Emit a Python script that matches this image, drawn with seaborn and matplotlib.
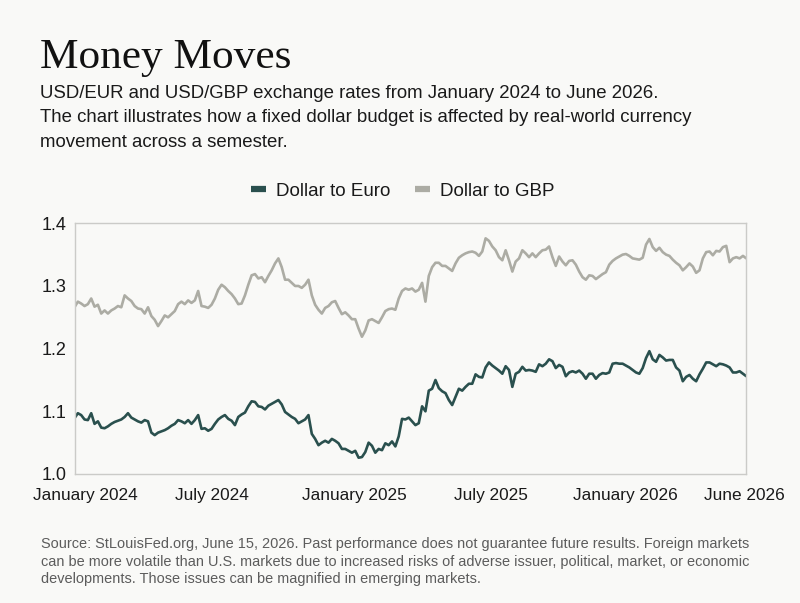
import matplotlib
matplotlib.use("Agg")
import matplotlib.pyplot as plt
import seaborn as sns
import pandas as pd
from matplotlib.lines import Line2D

# ---------------- data ----------------
START_DATE = "2024-01-01"
END_DATE = "2026-06-15"

euro = [
    1.089, 1.097, 1.094, 1.087, 1.086, 1.097, 1.080, 1.084, 1.074, 1.073,
    1.076, 1.080, 1.083, 1.085, 1.087, 1.091, 1.097, 1.090, 1.087, 1.084,
    1.082, 1.086, 1.084, 1.066, 1.062, 1.066, 1.068, 1.070, 1.073, 1.077,
    1.080, 1.086, 1.084, 1.081, 1.086, 1.080, 1.086, 1.094, 1.072, 1.073,
    1.069, 1.072, 1.080, 1.087, 1.091, 1.094, 1.088, 1.085, 1.078, 1.091,
    1.095, 1.098, 1.108, 1.116, 1.115, 1.108, 1.107, 1.103, 1.109, 1.112,
    1.115, 1.118, 1.111, 1.099, 1.095, 1.091, 1.088, 1.081, 1.084, 1.087,
    1.094, 1.064, 1.056, 1.046, 1.050, 1.053, 1.050, 1.056, 1.053, 1.049,
    1.040, 1.040, 1.037, 1.034, 1.037, 1.026, 1.027, 1.035, 1.050, 1.045,
    1.034, 1.040, 1.038, 1.049, 1.046, 1.052, 1.044, 1.060, 1.088,
    1.087, 1.090, 1.084, 1.078, 1.081, 1.108, 1.100, 1.133, 1.136, 1.150,
    1.137, 1.132, 1.129, 1.118, 1.110, 1.123, 1.136, 1.133, 1.139, 1.144,
    1.144, 1.159, 1.155, 1.154, 1.170, 1.178, 1.173, 1.169, 1.165, 1.160,
    1.172, 1.166, 1.139, 1.160, 1.163, 1.171, 1.165, 1.166, 1.165, 1.163,
    1.175, 1.172, 1.176, 1.183, 1.180, 1.169, 1.174, 1.171, 1.156,
    1.162, 1.164, 1.162, 1.165, 1.160, 1.152, 1.160, 1.160, 1.152, 1.158,
    1.161, 1.160, 1.162, 1.176, 1.177, 1.176, 1.176, 1.173, 1.170, 1.166,
    1.162, 1.160, 1.169, 1.185, 1.196, 1.183, 1.179, 1.190, 1.186, 1.181,
    1.182, 1.182, 1.170, 1.165, 1.148, 1.155, 1.158, 1.152, 1.148, 1.159,
    1.168, 1.178, 1.178, 1.175, 1.172, 1.176, 1.175, 1.173, 1.170, 1.162,
    1.162, 1.164, 1.160, 1.156,
]

gbp = [
    1.266, 1.275, 1.272, 1.268, 1.271, 1.280, 1.267, 1.270, 1.256, 1.261,
    1.256, 1.261, 1.264, 1.268, 1.266, 1.285, 1.280, 1.276, 1.268, 1.264,
    1.263, 1.256, 1.266, 1.252, 1.246, 1.236, 1.244, 1.253, 1.250, 1.255,
    1.260, 1.271, 1.275, 1.271, 1.277, 1.273, 1.277, 1.292, 1.268, 1.267,
    1.265, 1.270, 1.280, 1.294, 1.302, 1.298, 1.292, 1.287, 1.280, 1.271,
    1.272, 1.285, 1.302, 1.317, 1.319, 1.312, 1.314, 1.306, 1.316, 1.325,
    1.336, 1.344, 1.330, 1.310, 1.310, 1.305, 1.300, 1.300, 1.297, 1.302,
    1.310, 1.285, 1.270, 1.262, 1.256, 1.265, 1.268, 1.274, 1.276, 1.265,
    1.255, 1.258, 1.253, 1.247, 1.247, 1.232, 1.219, 1.229, 1.245, 1.247,
    1.244, 1.241, 1.250, 1.260, 1.263, 1.264, 1.262, 1.280, 1.292,
    1.296, 1.294, 1.296, 1.291, 1.294, 1.305, 1.275, 1.316, 1.330, 1.337,
    1.337, 1.332, 1.332, 1.328, 1.324, 1.336, 1.345, 1.349, 1.352, 1.354,
    1.355, 1.353, 1.348, 1.355, 1.376, 1.372, 1.363, 1.357, 1.346, 1.341,
    1.357, 1.341, 1.323, 1.339, 1.344, 1.357, 1.352, 1.346, 1.352, 1.346,
    1.352, 1.357, 1.358, 1.363, 1.346, 1.332, 1.347, 1.339, 1.333,
    1.340, 1.341, 1.334, 1.323, 1.314, 1.310, 1.317, 1.316, 1.311, 1.315,
    1.319, 1.322, 1.334, 1.340, 1.344, 1.347, 1.350, 1.351, 1.348, 1.344,
    1.343, 1.342, 1.345, 1.366, 1.375, 1.362, 1.356, 1.361, 1.354, 1.350,
    1.348, 1.342, 1.337, 1.333, 1.325, 1.330, 1.336, 1.331, 1.321, 1.325,
    1.344, 1.354, 1.355, 1.349, 1.356, 1.355, 1.362, 1.364, 1.338, 1.344,
    1.346, 1.344, 1.348, 1.344,
]

series_names = ["Dollar to Euro", "Dollar to GBP"]
tick_dates = ["2024-01-16", "2024-07-02", "2025-01-08", "2025-07-10", "2026-01-05", "2026-06-13"]
tick_labels = ["January 2024", "July 2024", "January 2025", "July 2025", "January 2026", "June 2026"]
y_ticks = [1.0, 1.1, 1.2, 1.3, 1.4]

title = "Money Moves"
subtitle_lines = [
    "USD/EUR and USD/GBP exchange rates from January 2024 to June 2026.",
    "The chart illustrates how a fixed dollar budget is affected by real-world currency",
    "movement across a semester.",
]
footer_lines = [
    "Source: StLouisFed.org, June 15, 2026. Past performance does not guarantee future results. Foreign markets",
    "can be more volatile than U.S. markets due to increased risks of adverse issuer, political, market, or economic",
    "developments. Those issues can be magnified in emerging markets.",
]

# ---------------- build table ----------------
assert len(euro) == len(gbp)
dates = pd.date_range(START_DATE, END_DATE, periods=len(euro))
df = pd.concat([
    pd.DataFrame({"date": dates, "rate": euro, "series": series_names[0]}),
    pd.DataFrame({"date": dates, "rate": gbp, "series": series_names[1]}),
])

# ---------------- style ----------------
BG = "#f9f9f7"
EURO_C = "#2a504e"
GBP_C = "#acaca4"
sns.set_theme(style="white")
plt.rcParams["font.family"] = ["Liberation Sans", "DejaVu Sans"]
plt.rcParams["figure.facecolor"] = BG
plt.rcParams["axes.facecolor"] = BG

fig = plt.figure(figsize=(8, 6.03), dpi=100)
W, H = 800, 603
ax = fig.add_axes([74.5 / W, (H - 474) / H, 671.8 / W, 250.7 / H])

sns.lineplot(data=df, x="date", y="rate", hue="series",
             palette={series_names[0]: EURO_C, series_names[1]: GBP_C},
             linewidth=1.9, ax=ax, legend=False)

ax.set_xlim(pd.Timestamp(START_DATE), pd.Timestamp(END_DATE))
ax.set_ylim(1.0, 1.4)
ax.set_yticks(y_ticks)
ax.set_yticklabels([f"{v:.1f}" for v in y_ticks])
ax.set_xticks([pd.Timestamp(d) for d in tick_dates])
ax.set_xticklabels(tick_labels)
ax.set_xlabel("")
ax.set_ylabel("")
ax.tick_params(axis="both", length=0, colors="#1a1a1a")
ax.tick_params(axis="x", pad=10, labelsize=12.4)
ax.tick_params(axis="y", pad=6, labelsize=13)
for sp in ax.spines.values():
    sp.set_visible(True)
    sp.set_color("#cbcbc8")
    sp.set_linewidth(1.0)

# legend
handles = [Line2D([0], [0], color=EURO_C, lw=4.5, solid_capstyle="butt"),
           Line2D([0], [0], color=GBP_C, lw=4.5, solid_capstyle="butt")]
fig.legend(handles, series_names, loc="center", bbox_to_anchor=(403 / W, (H - 191) / H),
           ncol=2, frameon=False, fontsize=13.5, handlelength=0.8, handletextpad=0.55,
           columnspacing=1.3, labelcolor="#1a1a1a")

# texts
fig.text(40 / W, (H - 68) / H, title, fontsize=31.2, va="baseline", ha="left",
         family=["Liberation Serif", "DejaVu Serif"], color="#111111")
for i, line in enumerate(subtitle_lines):
    fig.text(40 / W, (H - (98 + 24.5 * i)) / H, line, fontsize=13.4, va="baseline",
             ha="left", color="#1a1a1a")
for i, line in enumerate(footer_lines):
    fig.text(41 / W, (H - (548.3 + 17.6 * i)) / H, line, fontsize=10.45, va="baseline",
             ha="left", color="#5c5c5c")

fig.savefig("out.png", dpi=100, facecolor=BG)
